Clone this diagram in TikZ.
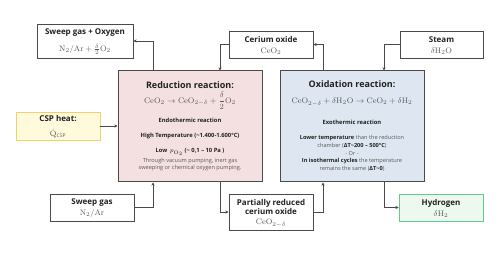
\documentclass[tikz,border=0pt]{standalone}
\usepackage{amsmath}
\usepackage[no-math]{fontspec}
\setmainfont{Open Sans}
\usetikzlibrary{arrows.meta}
\definecolor{redfill}{HTML}{F4E0E0}
\definecolor{oxifill}{HTML}{DDE6F1}
\definecolor{cspfill}{HTML}{FFFADC}
\definecolor{cspdraw}{HTML}{F2D06A}
\definecolor{hfill}{HTML}{EDF8EF}
\definecolor{hdraw}{HTML}{66C98C}
\definecolor{edge}{HTML}{4A4A4A}
\definecolor{txtgray}{HTML}{5A5A5A}
\definecolor{txtdark}{HTML}{222222}
\newcommand{\tld}{\symbol{"7E}}
\begin{document}
\begin{tikzpicture}[x=1pt,y=-1pt,
  box/.style={draw=edge,line width=0.9pt,fill=white,inner sep=0pt},
  big/.style={draw=edge,line width=1pt,inner sep=0pt},
  ttl/.style={font=\fontsize{8}{9}\selectfont\bfseries,text=txtdark,inner sep=0pt},
  bigttl/.style={font=\fontsize{9}{10}\selectfont\bfseries,text=txtdark,inner sep=0pt},
  frm/.style={font=\fontsize{8}{9}\selectfont,text=txtgray,inner sep=0pt},
  bfrm/.style={font=\fontsize{8.5}{10}\selectfont,text=txtgray,inner sep=0pt},
  bod/.style={font=\fontsize{5.6}{6.6}\selectfont,text=txtgray,inner sep=0pt,align=center},
  bodb/.style={bod,font=\fontsize{5.8}{6.6}\selectfont\bfseries,text=txtdark},
  arr/.style={draw=edge,line width=0.8pt,-{Stealth[length=3.2pt,width=3.2pt]}}]
\useasboundingbox (0,0) rectangle (500,264);
% boxes
\node[big,fill=redfill,minimum width=144pt,minimum height=111pt] (red) at (190,126.5) {};
\node[big,fill=oxifill,minimum width=144pt,minimum height=111pt] (oxi) at (352,126.5) {};
\node[box,minimum width=96pt,minimum height=34pt] (sgo) at (85,41) {};
\node[box,minimum width=84pt,minimum height=27pt] (ceo) at (271,44.5) {};
\node[box,minimum width=83pt,minimum height=27pt] (steam) at (441.5,44.5) {};
\node[box,draw=cspdraw,fill=cspfill,minimum width=84pt,minimum height=28pt] (csp) at (58,126) {};
\node[box,minimum width=84pt,minimum height=27pt] (sg) at (92,207.5) {};
\node[box,minimum width=84pt,minimum height=36pt] (pr) at (271,212) {};
\node[box,draw=hdraw,fill=hfill,minimum width=84pt,minimum height=27pt] (h2) at (441,207.5) {};
% texts of small boxes
\node[ttl] (sgoT) at (85,32.5) {Sweep gas + Oxygen};
\node[frm] (sgoF) at (85,49.5) {$\mathrm{N_2/Ar}+\frac{\delta}{2}\mathrm{O_2}$};
\node[ttl] (ceoT) at (271,39.5) {Cerium oxide};
\node[frm] (ceoF) at (271,51) {$\mathrm{CeO_2}$};
\node[ttl] (stT) at (441.5,39.5) {Steam};
\node[frm] (stF) at (441.5,51) {$\delta\mathrm{H_2O}$};
\node[ttl] (cspT) at (58,118.5) {CSP heat:};
\node[frm] (cspF) at (58,134) {$\dot{\mathrm{Q}}_{\mbox{\fontsize{5}{6}\selectfont\upshape CSP}}$};
\node[ttl] (sgT) at (92,203) {Sweep gas};
\node[frm] (sgF) at (92,213.5) {$\mathrm{N_2/Ar}$};
\node[ttl,align=center,font=\fontsize{8}{9.8}\selectfont\bfseries] (prT) at (271,207) {Partially reduced\\cerium oxide};
\node[frm] (prF) at (271,223) {$\mathrm{CeO_{2-\delta}}$};
\node[ttl] (h2T) at (441,203) {Hydrogen};
\node[frm] (h2F) at (441,214) {$\delta\mathrm{H_2}$};
% reduction texts
\node[bigttl] (redT) at (190,85) {Reduction reaction:};
\node[bfrm] (redF) at (190,100.5) {$\mathrm{CeO_2}\rightarrow\mathrm{CeO_{2-\delta}}+\dfrac{\delta}{2}\mathrm{O_2}$};
\node[bodb] (redE) at (190,120) {Endothermic reaction};
\node[bodb] (redH) at (190,136) {High Temperature (\tld1.400-1.600°C)};
\node[bodb] (redL) at (190,152) {Low \,$p_{\mathrm{O_2}}$ (\tld\ 0,1 -- 10 Pa )};
\node[bod] (redB) at (190,164.5) {Through vacuum pumping, inert gas\\sweeping or chemical oxygen pumping.};
% oxidation texts
\node[bigttl] (oxiT) at (352,84) {Oxidation reaction:};
\node[bfrm] (oxiF) at (352,102) {$\mathrm{CeO_{2-\delta}}+\delta\mathrm{H_2O}\rightarrow\mathrm{CeO_2}+\delta\mathrm{H_2}$};
\node[bodb] (oxiE) at (352,122) {Exothermic reaction};
\node[bod,font=\fontsize{5.6}{7.6}\selectfont] (oxiB) at (352,153.5) {\textcolor{txtdark}{\bfseries Lower temperature} than the reduction\\chamber (\textcolor{txtdark}{\bfseries ΔT\tld200 -- 500°C})\\- Or -\\\textcolor{txtdark}{\bfseries In isothermal cycles} the temperature\\remains the same (\textcolor{txtdark}{\bfseries ΔT\tld0})};
% connectors
\draw[arr] ([xshift=-37pt]red.north) |- (sgo.east);
\draw[arr] (ceo.west) -| ([xshift=30pt]red.north);
\draw[arr] ([xshift=-29pt]oxi.north) |- (ceo.east);
\draw[arr] (steam.west) -| ([xshift=32pt]oxi.north);
\draw[arr] (csp.east) -- (csp.east -| red.west);
\draw[arr] (sg.east) -| ([xshift=-37pt]red.south);
\draw[arr] ([xshift=30pt]red.south) |- (pr.west);
\draw[arr] (pr.east) -| ([xshift=-29pt]oxi.south);
\draw[arr] ([xshift=32pt]oxi.south) |- (h2.west);
\end{tikzpicture}
\end{document}
